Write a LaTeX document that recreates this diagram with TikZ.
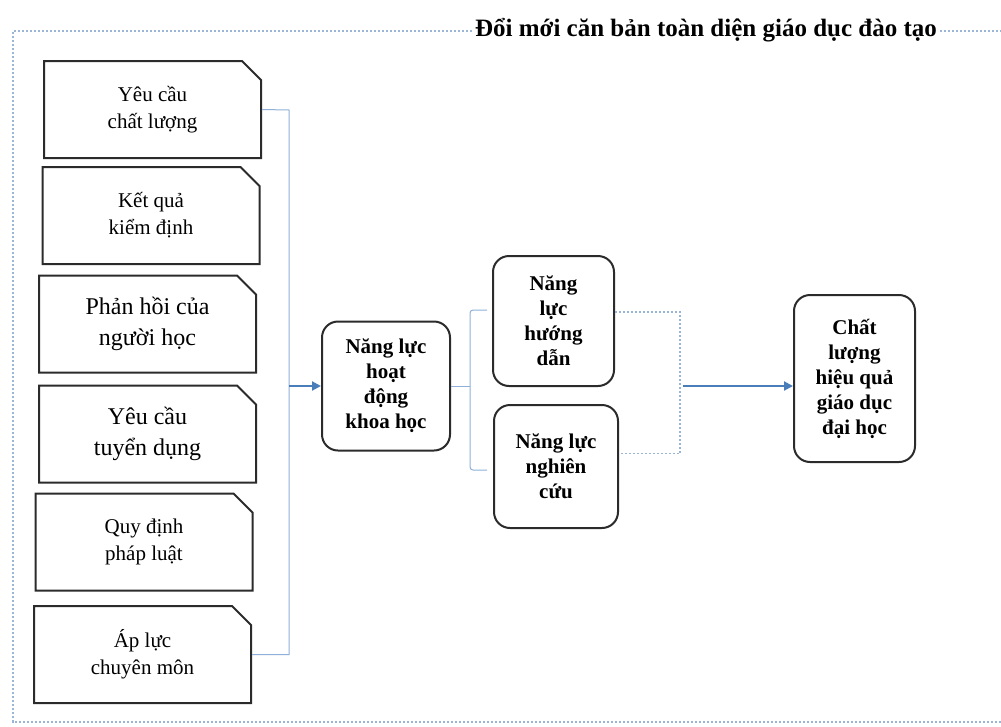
\documentclass[tikz,border=0pt]{standalone}
\usepackage{fontspec}
\setmainfont{Liberation Serif}
\usetikzlibrary{arrows.meta,calc,shapes.misc}

\definecolor{frameblue}{HTML}{9AB5D6}
\definecolor{lineblue}{HTML}{8FB0D8}
\definecolor{arrowblue}{HTML}{4A7EBB}
\definecolor{boxgray}{HTML}{2B2B2B}

\tikzset{
  inputbox/.style={draw=boxgray, line width=2pt, chamfered rectangle,
    chamfered rectangle corners=north east, chamfered rectangle xsep=16pt,
    minimum width=217pt, minimum height=97pt, inner sep=0pt, align=center,
    font=\fontsize{21}{27}\selectfont},
  bigtext/.style={font=\fontsize{24}{31}\selectfont},
  roundbox/.style={draw=boxgray, line width=2pt, rounded corners=16pt,
    inner sep=0pt, align=center, font=\bfseries\fontsize{21}{25}\selectfont},
  feed/.style={draw=lineblue, line width=1pt},
  dotline/.style={draw=frameblue, line width=1.2pt, dash pattern=on 2pt off 2pt},
  flow/.style={draw=arrowblue, line width=2pt, -{Triangle[length=9pt,width=9pt]}}
}

\begin{document}
\begin{tikzpicture}[x=1pt,y=-1pt]
  \useasboundingbox (0,0) rectangle (1001,726);

  % frame and title
  \node[anchor=base, inner sep=3pt, font=\bfseries\fontsize{25}{30}\selectfont] (title) at (706,36) {Đổi mới căn bản toàn diện giáo dục đào tạo};
  \coordinate (corner) at (13,31);
  \coordinate (foot) at (13,722);
  \draw[dotline] (title.west |- corner) -- (corner) -- (foot) -- (1001,722);
  \draw[dotline] (title.east |- corner) -- (1001,31);

  % inputs
  \node[inputbox] (quality) at (152.5,109.5) {Yêu cầu\\chất lượng};
  \node[inputbox] (accredit) at (151,215.5) {Kết quả\\kiểm định};
  \node[inputbox, bigtext] (feedback) at (147.5,324) {Phản hồi của\\người học};
  \node[inputbox, bigtext] (recruit) at (147.5,434) {Yêu cầu\\tuyển dụng};
  \node[inputbox] (law) at (144,542) {Quy định\\pháp luật};
  \node[inputbox] (pressure) at (142.5,654.5) {Áp lực\\chuyên môn};

  % capacities
  \node[roundbox, minimum width=128pt, minimum height=129pt] (science) at (386,386) {Năng lực\\hoạt\\động\\khoa học};
  \node[roundbox, minimum width=121pt, minimum height=130pt] (guide) at (553.5,321) {Năng\\lực\\hướng\\dẫn};
  \node[roundbox, minimum width=124pt, minimum height=123pt] (research) at (556,466.5) {Năng lực\\nghiên\\cứu};
  \node[roundbox, minimum width=121pt, minimum height=167pt] (result) at (854.5,378.5) {Chất\\lượng\\hiệu quả\\giáo dục\\đại học};

  % connectors
  \coordinate (bus) at (289,110);
  \draw[feed] (quality.east) -- (bus) |- (pressure.east);
  \draw[flow] (bus |- science.west) -- (science.west);

  \coordinate (brace) at (470,388);
  \coordinate (braceTop) at (487,310);
  \coordinate (braceBot) at (487,470);
  \draw[feed] (science.east) -- (brace |- science.east);
  \draw[feed, rounded corners=3pt] (braceTop) -| (brace) |- (braceBot);

  \coordinate (merge) at (680,386);
  \draw[dotline] ($(guide.east)+(0,-9)$) -| (merge) |- ($(research.east)+(0,-13)$);
  \draw[flow] ($(merge)+(3,0)$) -- (result.west |- merge);
\end{tikzpicture}
\end{document}
